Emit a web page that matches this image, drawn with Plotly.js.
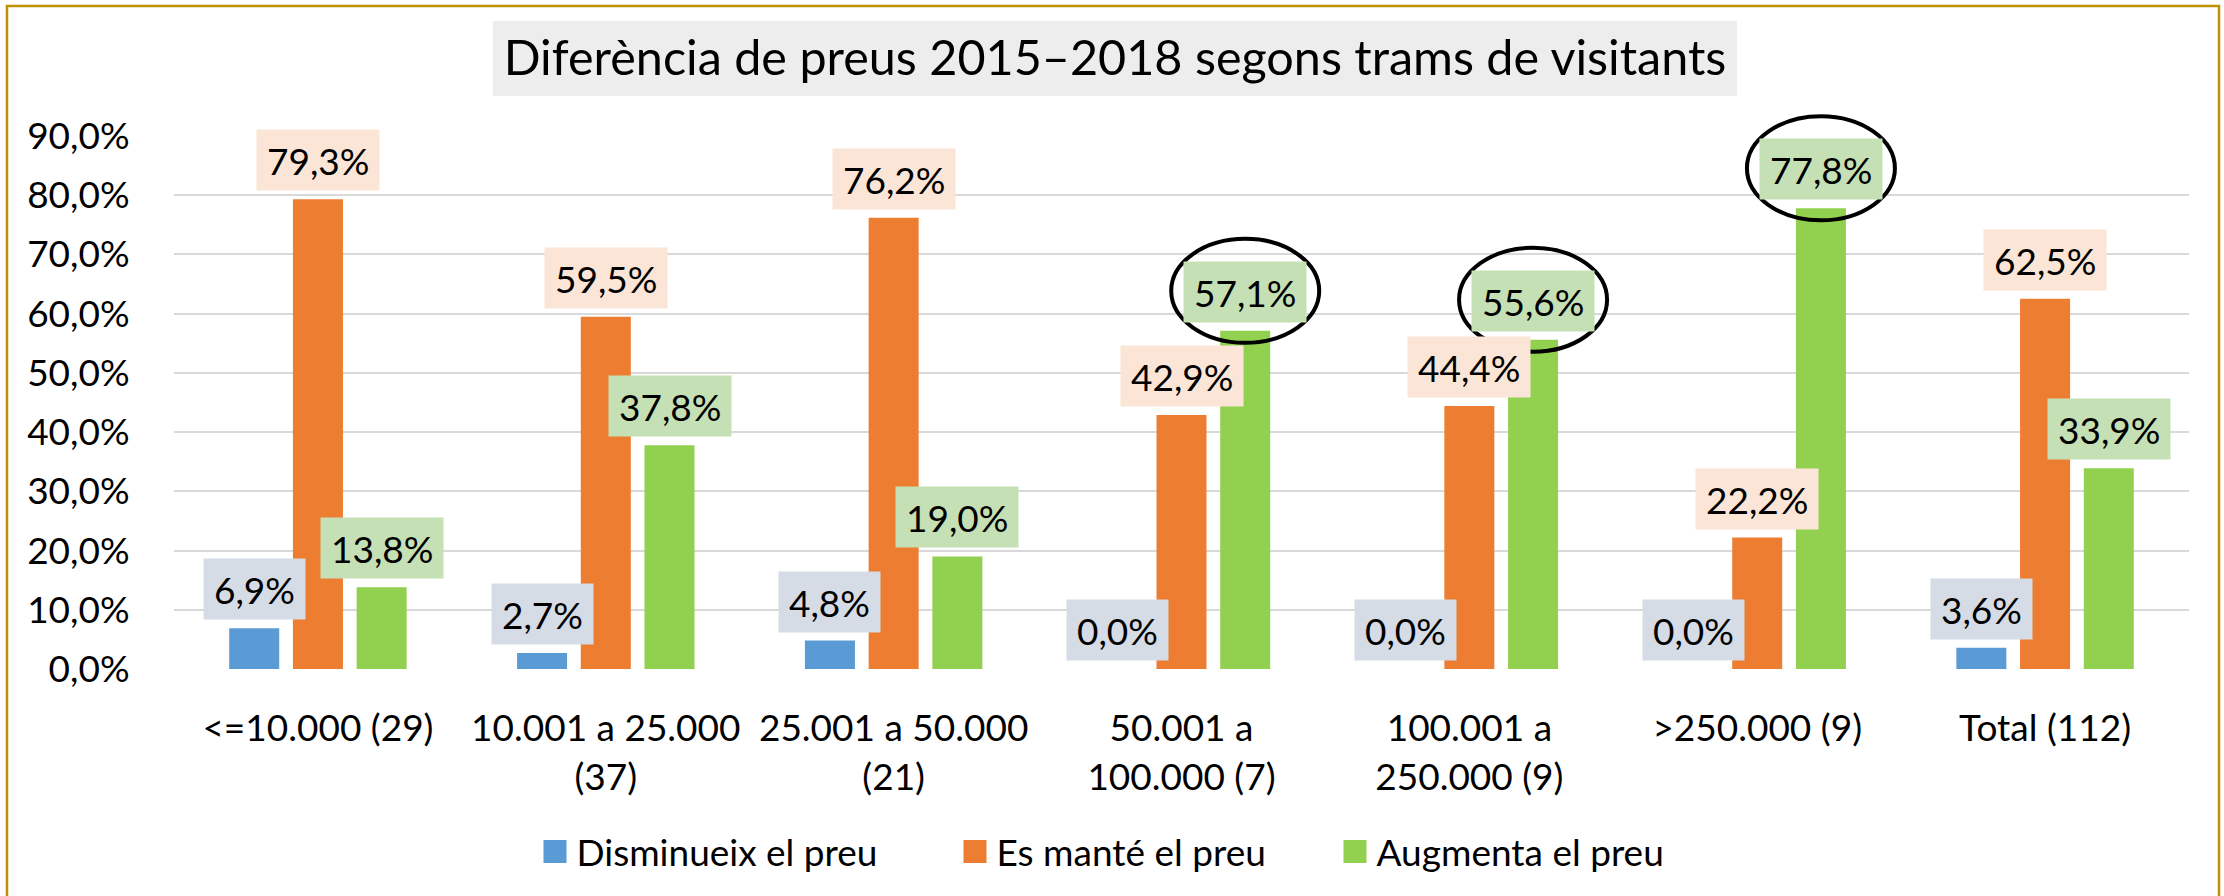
<!DOCTYPE html>
<html><head><meta charset="utf-8">
<script src="https://cdn.plot.ly/plotly-3.0.1.min.js"></script>
<style>html,body{margin:0;padding:0;background:#fff;} #chart{width:2224px;height:896px;}</style>
</head><body><div id="chart"></div>
<script>
// ---- data ----
const categories = ["<=10.000 (29)", "10.001 a 25.000 (37)", "25.001 a 50.000 (21)", "50.001 a 100.000 (7)", "100.001 a 250.000 (9)", ">250.000 (9)", "Total (112)"];
const tickLabels = ["&lt;=10.000 (29)", "10.001 a 25.000<br>(37)", "25.001 a 50.000<br>(21)", "50.001 a<br>100.000 (7)", "100.001 a<br>250.000 (9)", "&gt;250.000 (9)", "Total (112)"];
const seriesNames = ["Disminueix el preu", "Es manté el preu", "Augmenta el preu"];
const disminueix = [6.9, 2.7, 4.8, 0.0, 0.0, 0.0, 3.6];
const esMante = [79.3, 59.5, 76.2, 42.9, 44.4, 22.2, 62.5];
const augmenta = [13.8, 37.8, 19.0, 57.1, 55.6, 77.8, 33.9];
const highlightedAugmenta = [3, 4, 5];
const yTicks = [0, 10, 20, 30, 40, 50, 60, 70, 80, 90];
const yRange = [0, 90];
const chartTitle = "Diferència de preus 2015–2018 segons trams de visitants";

// ---- styles ----
const FONT = "Lato, 'Noto Sans', sans-serif";
const FS = 37;
const barColors = ["#5B9BD5", "#ED7D31", "#92D050"];
const labelBg = ["#D6DCE5", "#FBE5D6", "#C5E0B4"];
const series = [disminueix, esMante, augmenta];
const legendWidths = [375, 335, null];

const M = {l: 174, r: 35, t: 136, b: 227};
const W = 2224, H = 896;
const pw = W - M.l - M.r, ph = H - M.t - M.b;
const px2x = p => (p - M.l) / pw;
const py2y = p => (H - M.b - p) / ph;

const bargap = 0.336;
const slot = (1 - bargap) / 3;
const fmt = v => v.toFixed(1).replace('.', ',') + '%';
// map category position / value into axis-domain fractions (same scales as the axes)
const xDom = pos => (pos + 0.5) / categories.length;
const yDom = v => (v - yRange[0]) / (yRange[1] - yRange[0]);

const traces = series.map((vals, s) => {
  const t = {
    type: 'bar', name: seriesNames[s], x: categories, y: vals,
    marker: {color: barColors[s], line: {width: 0}},
    hoverinfo: 'skip'
  };
  if (legendWidths[s]) t.legendwidth = legendWidths[s];
  return t;
});

const annotations = [];
series.forEach((vals, s) => {
  vals.forEach((v, i) => {
    annotations.push({
      x: i + (s - 1) * slot, y: v, xref: 'x', yref: 'y',
      text: fmt(v), showarrow: false,
      xanchor: 'center', yanchor: 'bottom', yshift: 8,
      bgcolor: labelBg[s], borderpad: 10, height: 40,
      font: {family: FONT, size: FS, color: '#000'}
    });
  });
});

const shapes = [
  // outer gold frame
  {type: 'rect', xref: 'paper', yref: 'paper', layer: 'above',
   x0: px2x(7), x1: px2x(2219), y0: py2y(905), y1: py2y(6),
   line: {color: '#BF9000', width: 2.5}, fillcolor: 'rgba(0,0,0,0)'},
  // title background box
  {type: 'rect', xref: 'paper', yref: 'paper', layer: 'below',
   x0: px2x(493), x1: px2x(1737), y0: py2y(96), y1: py2y(21),
   line: {width: 0}, fillcolor: '#EDEDED'}
];
highlightedAugmenta.forEach(i => {
  shapes.push({
    type: 'circle', xref: 'x domain', yref: 'y domain', xsizemode: 'pixel', ysizemode: 'pixel',
    xanchor: xDom(i + slot), yanchor: yDom(augmenta[i]),
    x0: -74, x1: 74, y0: -12, y1: 92,
    line: {color: '#000', width: 4}, fillcolor: 'rgba(0,0,0,0)', layer: 'above'
  });
});

const layout = {
  width: W, height: H,
  margin: M,
  paper_bgcolor: '#fff', plot_bgcolor: '#fff',
  separators: ',.',
  font: {family: FONT, size: FS, color: '#000'},
  title: {text: chartTitle, font: {family: FONT, size: 48.5, color: '#000'},
          xref: 'paper', x: px2x(1115), xanchor: 'center',
          yref: 'container', y: 1 - 58.5 / H, yanchor: 'middle'},
  barmode: 'group', bargap: bargap, bargroupgap: 0.215,
  showlegend: true,
  legend: {orientation: 'h', xref: 'paper', yref: 'paper', x: px2x(536.5), xanchor: 'left',
           y: py2y(852), yanchor: 'middle', font: {family: FONT, size: FS, color: '#000'},
           bgcolor: 'rgba(0,0,0,0)', traceorder: 'normal'},
  xaxis: {type: 'category', tickvals: categories, ticktext: tickLabels,
          ticks: 'outside', ticklen: 27, tickcolor: 'rgba(0,0,0,0)',
          showgrid: false, zeroline: false, showline: false,
          tickfont: {family: FONT, size: FS, color: '#000'}},
  yaxis: {range: yRange, tickmode: 'array', tickvals: yTicks, ticktext: yTicks.map(fmt),
          ticks: 'outside', ticklen: 36, tickcolor: 'rgba(0,0,0,0)',
          showgrid: true, gridcolor: '#D9D9D9', gridwidth: 2,
          zeroline: false, showline: false,
          tickfont: {family: FONT, size: FS, color: '#000'}},
  annotations: annotations,
  shapes: shapes
};

// enlarge the legend swatches to 23px squares placed just left of their text
function fixLegend(gd) {
  gd.querySelectorAll('.legend .traces').forEach(tr => {
    const txt = tr.querySelector('text.legendtext');
    tr.querySelectorAll('.legendpoints path').forEach(p => {
      const ctm = p.getCTM();
      if (!ctm || !txt) return;
      const svg = p.ownerSVGElement;
      const sRect = svg.getBoundingClientRect();
      const tRect = txt.getBoundingClientRect();
      const originX = ctm.e + sRect.left;
      const cx = tRect.left - 21.5 - originX;
      p.setAttribute('d', 'M' + (cx + 11.5) + ',11.5H' + (cx - 11.5) + 'V-11.5H' + (cx + 11.5) + 'Z');
      p.removeAttribute('transform');
      p.style.strokeWidth = '0px';
    });
  });
}

Plotly.newPlot('chart', traces, layout, {staticPlot: true, displayModeBar: false}).then(gd => {
  fixLegend(gd);
  gd.on('plotly_afterplot', () => fixLegend(gd));
  setTimeout(() => fixLegend(gd), 300);
});
</script>
</body></html>
